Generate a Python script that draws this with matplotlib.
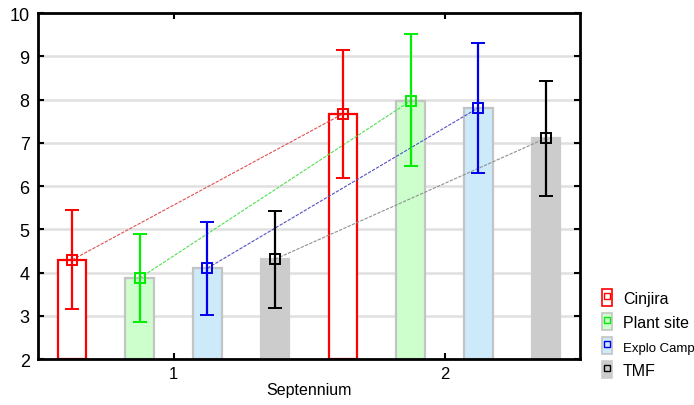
import numpy as np
import matplotlib.pyplot as plt
from matplotlib.patches import Patch
from matplotlib.lines import Line2D

plt.rcParams['font.family'] = ['Liberation Sans', 'DejaVu Sans']

# data
periods = [1, 2]
sites = ['Cinjira', 'Plant site', 'Explo Camp', 'TMF']
means = {
    'Cinjira':    [4.29, 7.67],
    'Plant site': [3.87, 7.97],
    'Explo Camp': [4.10, 7.81],
    'TMF':        [4.31, 7.11],
}
err_hi = {
    'Cinjira':    [5.44, 9.14],
    'Plant site': [4.90, 9.51],
    'Explo Camp': [5.16, 9.31],
    'TMF':        [5.43, 8.44],
}
err_lo = {
    'Cinjira':    [3.16, 6.18],
    'Plant site': [2.85, 6.46],
    'Explo Camp': [3.02, 6.31],
    'TMF':        [3.18, 5.77],
}

line_col = {'Cinjira': '#ff0000', 'Plant site': '#00ee00',
            'Explo Camp': '#0000ee', 'TMF': '#000000'}
dash_col = {'Cinjira': '#e05050', 'Plant site': '#50e050',
            'Explo Camp': '#5050c8', 'TMF': '#909090'}
bar_face = {'Cinjira': 'white', 'Plant site': '#ccffcc',
            'Explo Camp': '#cdeafa', 'TMF': '#cccccc'}
bar_edge = {'Cinjira': '#ff0000', 'Plant site': '#c4c4c4',
            'Explo Camp': '#c4c4c4', 'TMF': '#cccccc'}
offsets = [-0.375, -0.125, 0.125, 0.375]
width = 0.105

fig = plt.figure(figsize=(6.94, 4.06), dpi=100)
ax = fig.add_axes([0.0548, 0.1133, 0.781, 0.852])

for y in range(3, 10):
    ax.axhline(y, color='#e0e0e0', lw=1.8, zorder=0)

x = np.array(periods, dtype=float)
for s, off in zip(sites, offsets):
    m = np.array(means[s])
    lo = m - np.array(err_lo[s])
    hi = np.array(err_hi[s]) - m
    ax.bar(x + off, m - 2, bottom=2, width=width, color=bar_face[s],
           edgecolor=bar_edge[s], linewidth=1.6, zorder=2)
    ax.plot(x + off, m, ls=(0, (3, 1.2)), lw=0.8, color=dash_col[s], zorder=3)
    ax.errorbar(x + off, m, yerr=[lo, hi], fmt='s', color=line_col[s],
                mfc='none', mec=line_col[s], ms=7, mew=1.4, lw=1.6,
                capsize=5, capthick=1.6, zorder=4)

ax.set_xlim(0.5, 2.5)
ax.set_ylim(2, 10)
ax.set_xticks(periods)
ax.set_yticks(range(2, 11))
ax.tick_params(direction='in', top=True, right=True, length=4, width=1.5,
               labelsize=13, pad=6)
ax.tick_params(axis='x', labeltop=False, labelsize=12, pad=5)
for sp in ax.spines.values():
    sp.set_linewidth(2)
ax.set_xlabel('Septennium', fontsize=11.5, labelpad=1)

handles = []
for s in sites:
    h = (Patch(facecolor=bar_face[s], edgecolor=bar_edge[s], lw=1.2),
         Line2D([], [], marker='s', ls='none', mfc='none', mec=line_col[s], ms=4, mew=1))
    handles.append(h)
leg = fig.legend(handles, sites, loc='upper left', bbox_to_anchor=(0.847, 0.322),
                 frameon=False, fontsize=11.5, handlelength=0.6, handleheight=1.3,
                 handletextpad=0.7, labelspacing=0.42)
leg.get_texts()[2].set_fontsize(9.5)

fig.savefig('out.png', dpi=100)
